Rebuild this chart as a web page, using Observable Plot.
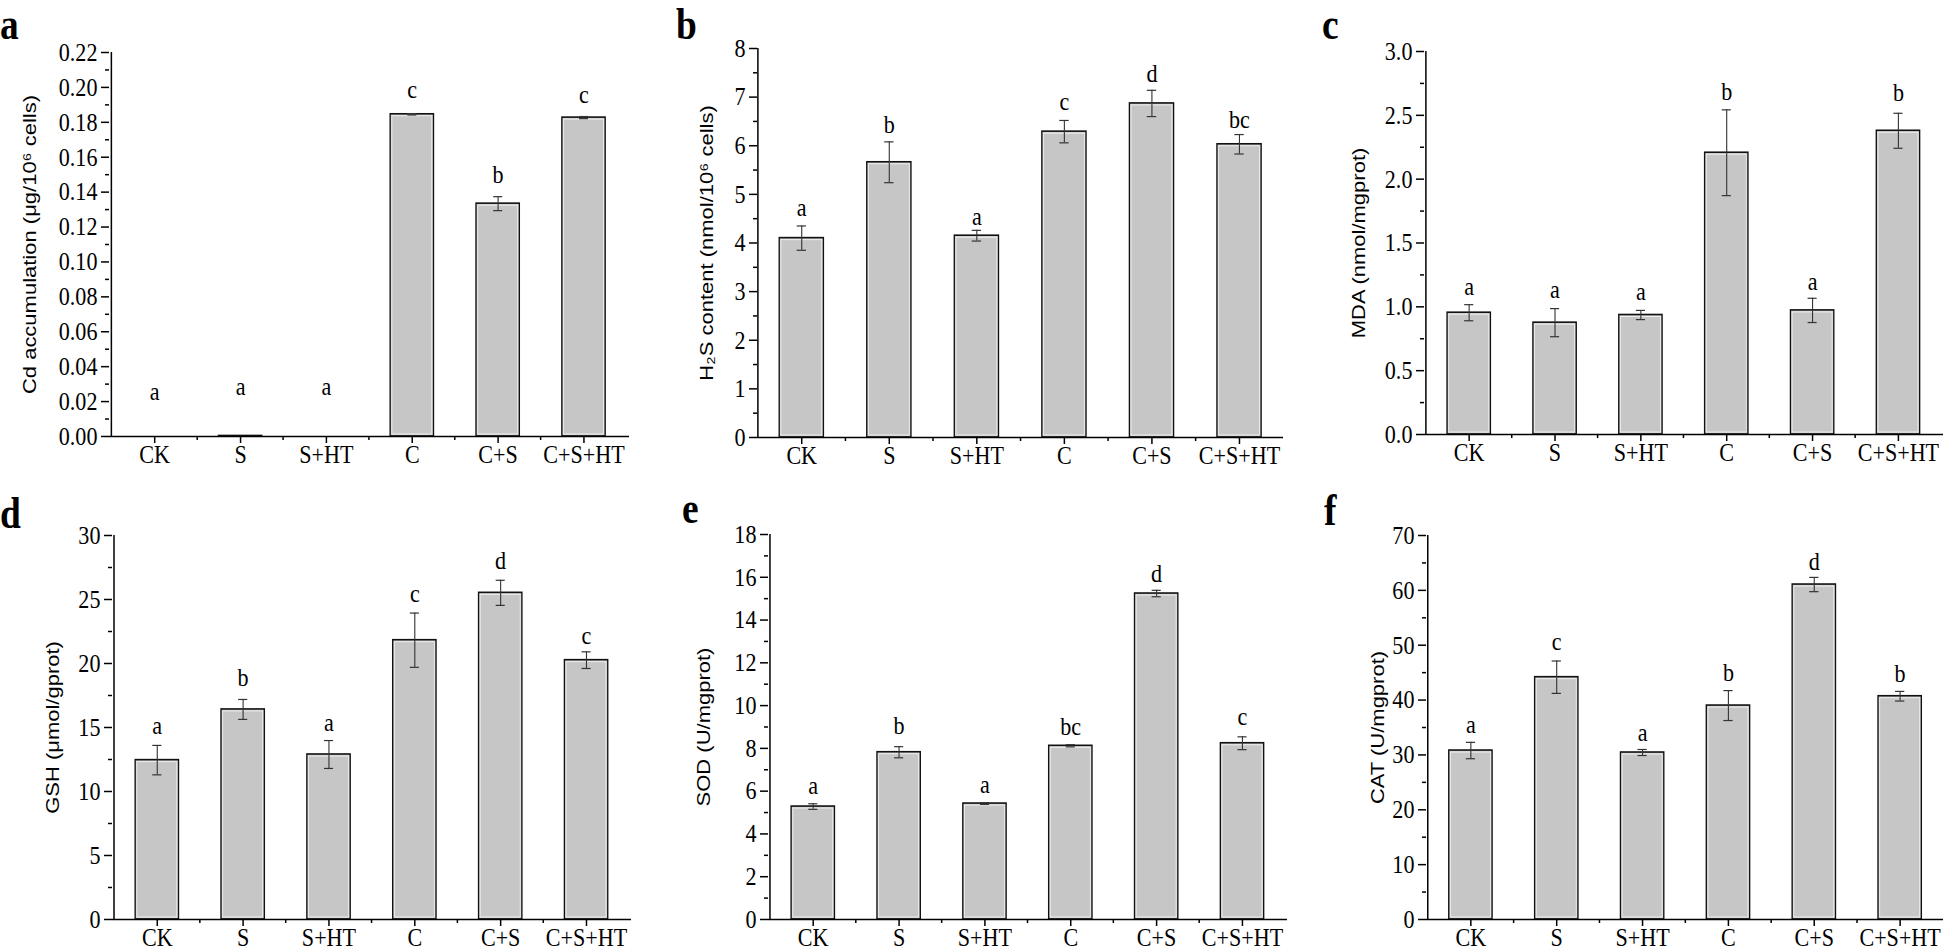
<!DOCTYPE html>
<html><head><meta charset="utf-8">
<script src="https://cdn.jsdelivr.net/npm/d3@7"></script>
<script src="https://cdn.jsdelivr.net/npm/@observablehq/plot@0.6"></script>
<style>
body{margin:0;background:#fff;}
#root{position:relative;width:1946px;height:952px;overflow:hidden;background:#fff;}
.panel{position:absolute;transform-origin:0 0;}
.panel svg{max-width:none !important;display:block;}
.tag{position:absolute;font-family:"Liberation Serif","Times New Roman",serif;font-weight:bold;font-size:44px;line-height:44px;color:#000;transform-origin:0 0;}
</style></head><body><div id="root"></div>
<script>
const categories = ["CK", "S", "S+HT", "C", "C+S", "C+S+HT"];

// a: Cd accumulation
const cdMean = [0, 0.0003, 0, 0.1846, 0.1334, 0.1827];
const cdSE = [0, 0, 0, 0.0004, 0.004, 0.0006];
const cdLetters = ["a", "a", "a", "c", "b", "c"];
const cdLetterY = [0.021, 0.0235, 0.0235, 0.194, 0.145, 0.191];
const cdTicks = [0, 0.02, 0.04, 0.06, 0.08, 0.10, 0.12, 0.14, 0.16, 0.18, 0.20, 0.22];

// b: H2S content
const h2sMean = [4.10, 5.66, 4.15, 6.29, 6.87, 6.03];
const h2sSE = [0.25, 0.42, 0.11, 0.23, 0.27, 0.20];
const h2sLetters = ["a", "b", "a", "c", "d", "bc"];
const h2sLetterY = [4.56, 6.27, 4.37, 6.73, 7.31, 6.37];
const h2sTicks = [0, 1, 2, 3, 4, 5, 6, 7, 8];

// c: MDA
const mdaMean = [0.954, 0.876, 0.936, 2.207, 0.972, 2.379];
const mdaSE = [0.063, 0.11, 0.036, 0.336, 0.095, 0.137];
const mdaLetters = ["a", "a", "a", "b", "a", "b"];
const mdaLetterY = [1.089, 1.069, 1.05, 2.622, 1.134, 2.614];
const mdaTicks = [0, 0.5, 1.0, 1.5, 2.0, 2.5, 3.0];

// d: GSH
const gshMean = [12.45, 16.41, 12.89, 21.82, 25.52, 20.26];
const gshSE = [1.15, 0.78, 1.09, 2.12, 0.98, 0.65];
const gshLetters = ["a", "b", "a", "c", "d", "c"];
const gshLetterY = [14.53, 18.28, 14.71, 24.79, 27.40, 21.54];
const gshTicks = [0, 5, 10, 15, 20, 25, 30];

// e: SOD
const sodMean = [5.28, 7.82, 5.42, 8.12, 15.24, 8.24];
const sodSE = [0.13, 0.26, 0.04, 0.05, 0.15, 0.30];
const sodLetters = ["a", "b", "a", "bc", "d", "c"];
const sodLetterY = [5.87, 8.66, 5.93, 8.63, 15.77, 9.10];
const sodTicks = [0, 2, 4, 6, 8, 10, 12, 14, 16, 18];

// f: CAT
const catMean = [30.80, 44.17, 30.44, 39.00, 61.06, 40.70];
const catSE = [1.49, 2.95, 0.55, 2.73, 1.30, 0.88];
const catLetters = ["a", "c", "a", "b", "d", "b"];
const catLetterY = [34.02, 49.09, 32.50, 43.44, 63.79, 43.26];
const catTicks = [0, 10, 20, 30, 40, 50, 60, 70];

const SERIF = '"Liberation Serif", "Times New Roman", Times, serif';
const SANS = '"Liberation Sans", Arial, Helvetica, sans-serif';
const S = 0.85;          // horizontal squeeze of the original figure
const FONT = 26;         // serif text size (before squeeze)
const LABEL_FONT = 22;   // axis-title size

const panels = [
  {tag: "a", mean: cdMean, se: cdSE, letters: cdLetters, ly: cdLetterY, ticks: cdTicks, fmt: d3.format(".2f"),
   label: "Cd accumulation (μg/10⁶ cells)", left: 0, top: 0, w: 650, ml: 109, mr: 21, mt: 52, mb: 40, lo: 87,
   tagLeft: 0, tagBase: 39.5},
  {tag: "b", mean: h2sMean, se: h2sSE, letters: h2sLetters, ly: h2sLetterY, ticks: h2sTicks, fmt: d3.format("d"),
   label: "H₂S content (nmol/10⁶ cells)", left: 650, top: 0, w: 650, ml: 107, mr: 17, mt: 48, mb: 39, lo: 58,
   tagLeft: 676, tagBase: 39.5},
  {tag: "c", mean: mdaMean, se: mdaSE, letters: mdaLetters, ly: mdaLetterY, ticks: mdaTicks, fmt: d3.format(".1f"),
   label: "MDA (nmol/mgprot)", left: 1300, top: 0, w: 646, ml: 124, mr: 3, mt: 51, mb: 42, lo: 73,
   tagLeft: 1322, tagBase: 39.5},
  {tag: "d", mean: gshMean, se: gshSE, letters: gshLetters, ly: gshLetterY, ticks: gshTicks, fmt: d3.format("d"),
   label: "GSH (μmol/gprot)", left: 0, top: 476, w: 650, ml: 112, mr: 19, mt: 59, mb: 33, lo: 67,
   tagLeft: 0, tagBase: 529},
  {tag: "e", mean: sodMean, se: sodSE, letters: sodLetters, ly: sodLetterY, ticks: sodTicks, fmt: d3.format("d"),
   label: "SOD (U/mgprot)", left: 650, top: 476, w: 650, ml: 118, mr: 13, mt: 58, mb: 33, lo: 72,
   tagLeft: 682, tagBase: 524},
  {tag: "f", mean: catMean, se: catSE, letters: catLetters, ly: catLetterY, ticks: catTicks, fmt: d3.format("d"),
   label: "CAT (U/mgprot)", left: 1300, top: 476, w: 646, ml: 126, mr: 3, mt: 59, mb: 33, lo: 56,
   tagLeft: 1324, tagBase: 526}
];

const root = document.getElementById("root");

function makePanel(p) {
  const H = 476;
  const W = p.w / S, ml = p.ml / S, mr = p.mr / S;
  const data = categories.map((c, i) => ({
    cat: c, m: p.mean[i], se: p.se[i], lo: p.mean[i] - p.se[i], hi: p.mean[i] + p.se[i],
    letter: p.letters[i], ly: p.ly[i]
  }));
  const ymax = p.ticks[p.ticks.length - 1];
  const dt = p.ticks[1] - p.ticks[0];
  const minor = d3.range(dt / 2, ymax, dt);
  const step = (W - ml - mr) / categories.length;
  const bw = step * 0.5;
  const eb = data.filter(d => d.se > 0);
  const tall = data.filter(d => d.m / ymax * (H - p.mt - p.mb) > 6);
  const capInset = Math.max(0, (bw - 9 / S) / 2);
  const vw = 1.5 / S; // keeps vertical strokes at ~1.5px after squeeze
  return Plot.plot({
    width: W, height: H,
    marginLeft: ml, marginRight: mr, marginTop: p.mt, marginBottom: p.mb,
    style: {fontFamily: SERIF, fontSize: FONT + "px", color: "#000", background: "transparent", overflow: "visible"},
    x: {domain: categories, paddingInner: 0.5, paddingOuter: 0.25, label: null},
    y: {domain: [0, ymax], label: null},
    marks: [
      Plot.barY(data, {x: "cat", y: "m", fill: "#c6c6c6", stroke: "#111", strokeWidth: 1.6}),
      Plot.barY(tall, {x: "cat", y: "m", fill: "none", stroke: "#eeeeee", strokeWidth: 1, inset: 2}),
      Plot.ruleX(eb, {x: "cat", y1: "lo", y2: "hi", stroke: "#333", strokeWidth: 1.3}),
      Plot.tickY(eb, {x: "cat", y: "hi", stroke: "#333", strokeWidth: 1.2, insetLeft: capInset, insetRight: capInset}),
      Plot.tickY(eb, {x: "cat", y: "lo", stroke: "#333", strokeWidth: 1.2, insetLeft: capInset, insetRight: capInset}),
      Plot.text(data, {x: "cat", y: "ly", text: "letter", lineAnchor: "bottom", fontSize: FONT, fontFamily: SERIF}),
      Plot.ruleY([0], {stroke: "#000", strokeWidth: 1.5}),
      Plot.ruleX([categories[0]], {y1: 0, y2: ymax, dx: -step / 2, stroke: "#000", strokeWidth: vw}),
      Plot.ruleX(categories.slice(1), {y1: 0, y2: 0, dx: -step / 2, insetTop: 4, stroke: "#000", strokeWidth: vw}),
      Plot.axisX({tickSize: 7, tickPadding: 1, fontSize: FONT, strokeWidth: vw, label: null}),
      Plot.axisY({ticks: p.ticks, tickSize: 8 / S, tickPadding: 4 / S, tickFormat: p.fmt, fontSize: FONT, strokeWidth: 1.5, label: null}),
      Plot.axisY({ticks: minor, tickSize: 4 / S, tickFormat: () => "", strokeWidth: 1.5, label: null}),
      Plot.axisY({ticks: [], tickSize: 0, label: p.label, labelAnchor: "center", labelOffset: p.lo / S, labelArrow: "none",
                  fontFamily: SANS, fontSize: LABEL_FONT})
    ]
  });
}

for (const p of panels) {
  const div = document.createElement("div");
  div.className = "panel";
  div.style.left = p.left + "px";
  div.style.top = p.top + "px";
  div.style.width = (p.w / S) + "px";
  div.style.transform = `scaleX(${S})`;
  div.appendChild(makePanel(p));
  root.appendChild(div);
  const t = document.createElement("div");
  t.className = "tag";
  t.textContent = p.tag;
  t.style.left = p.tagLeft + "px";
  t.style.top = (p.tagBase - 37) + "px";
  t.style.transform = `scaleX(${S})`;
  root.appendChild(t);
}
</script>
</body></html>
